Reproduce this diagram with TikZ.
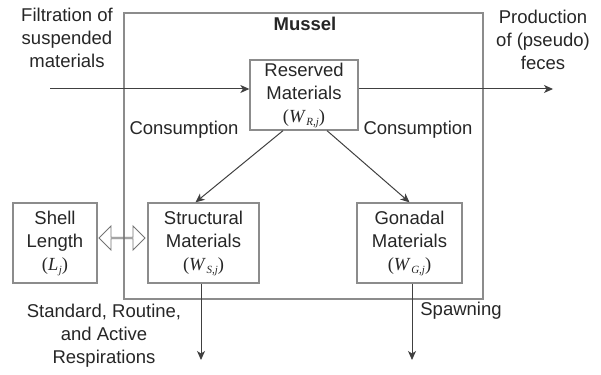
\documentclass[tikz,border=0pt]{standalone}
\usepackage{fontspec}
\setmainfont{Liberation Sans}
\newfontfamily\tnr{Liberation Serif}
\newcommand{\wvar}[2]{{\tnr(\textit{#1}\kern0.5pt\raisebox{-0.35ex}{\fontsize{11}{11}\selectfont\textit{#2}})}}
\usetikzlibrary{arrows.meta,shapes.arrows}
\begin{document}
\begin{tikzpicture}[x=1pt,y=-1pt,
  every node/.style={font=\fontsize{18.5}{23}\selectfont, text=black!85},
  box/.style={draw=black!45, line width=1.3pt, inner sep=0pt, align=center},
  lbl/.style={align=center, inner sep=0pt},
  flow/.style={draw=black!75, line width=1pt, -{Stealth[length=9pt,width=8pt,inset=2.5pt]}}]
\useasboundingbox (0,0) rectangle (601,374);
% boxes
\node[box, minimum width=359pt, minimum height=286pt] (mussel) at (303.5,156) {};
\node[box, minimum width=108pt, minimum height=70pt] (res) at (304,95) {Reserved\\Materials\\\wvar{W}{R,j}};
\node[box, minimum width=111pt, minimum height=80pt] (str) at (203.5,243) {Structural\\Materials\\\wvar{W}{S,j}};
\node[box, minimum width=105pt, minimum height=80pt] (gon) at (409.5,243) {Gonadal\\Materials\\\wvar{W}{G,j}};
\node[box, minimum width=84pt, minimum height=80pt] (shell) at (55,243) {Shell\\Length\\\wvar{L}{j}};
% labels
\node[lbl, font=\fontsize{18.5}{23}\selectfont\bfseries] (mtitle) at (305,24) {Mussel};
\node[lbl] (filt) at (67,38) {Filtration of\\suspended\\materials};
\node[lbl] (prod) at (543,40) {Production\\of (pseudo)\\feces};
\node[lbl] (cons1) at (184,130) {Consumption};
\node[lbl] (cons2) at (418,130) {Consumption};
\node[lbl] (resp) at (104,336) {Standard, Routine,\\and Active\\Respirations};
\node[lbl] (spawn) at (461,311) {Spawning};
% coordinates
\coordinate (in) at (50,89);
\coordinate (out) at (553,89);
\coordinate (d1) at (201,360);
\coordinate (d2) at (412,360);
% connectors
\draw[flow] (in) -- (in -| res.west);
\draw[flow] (res.east |- in) -- (out);
\draw[flow] ([xshift=-21pt]res.south) -- ([xshift=-8pt]str.north);
\draw[flow] ([xshift=23pt]res.south) -- ([xshift=0pt]gon.north);
\draw[flow] (str.south -| d1) -- (d1);
\draw[flow] (gon.south -| d2) -- (d2);
\node[draw=black!55, line width=0.9pt, double arrow, inner sep=0pt,
  minimum height=46pt, minimum width=24pt, double arrow head extend=7pt] (dbl) at (122,238) {};
\end{tikzpicture}
\end{document}
